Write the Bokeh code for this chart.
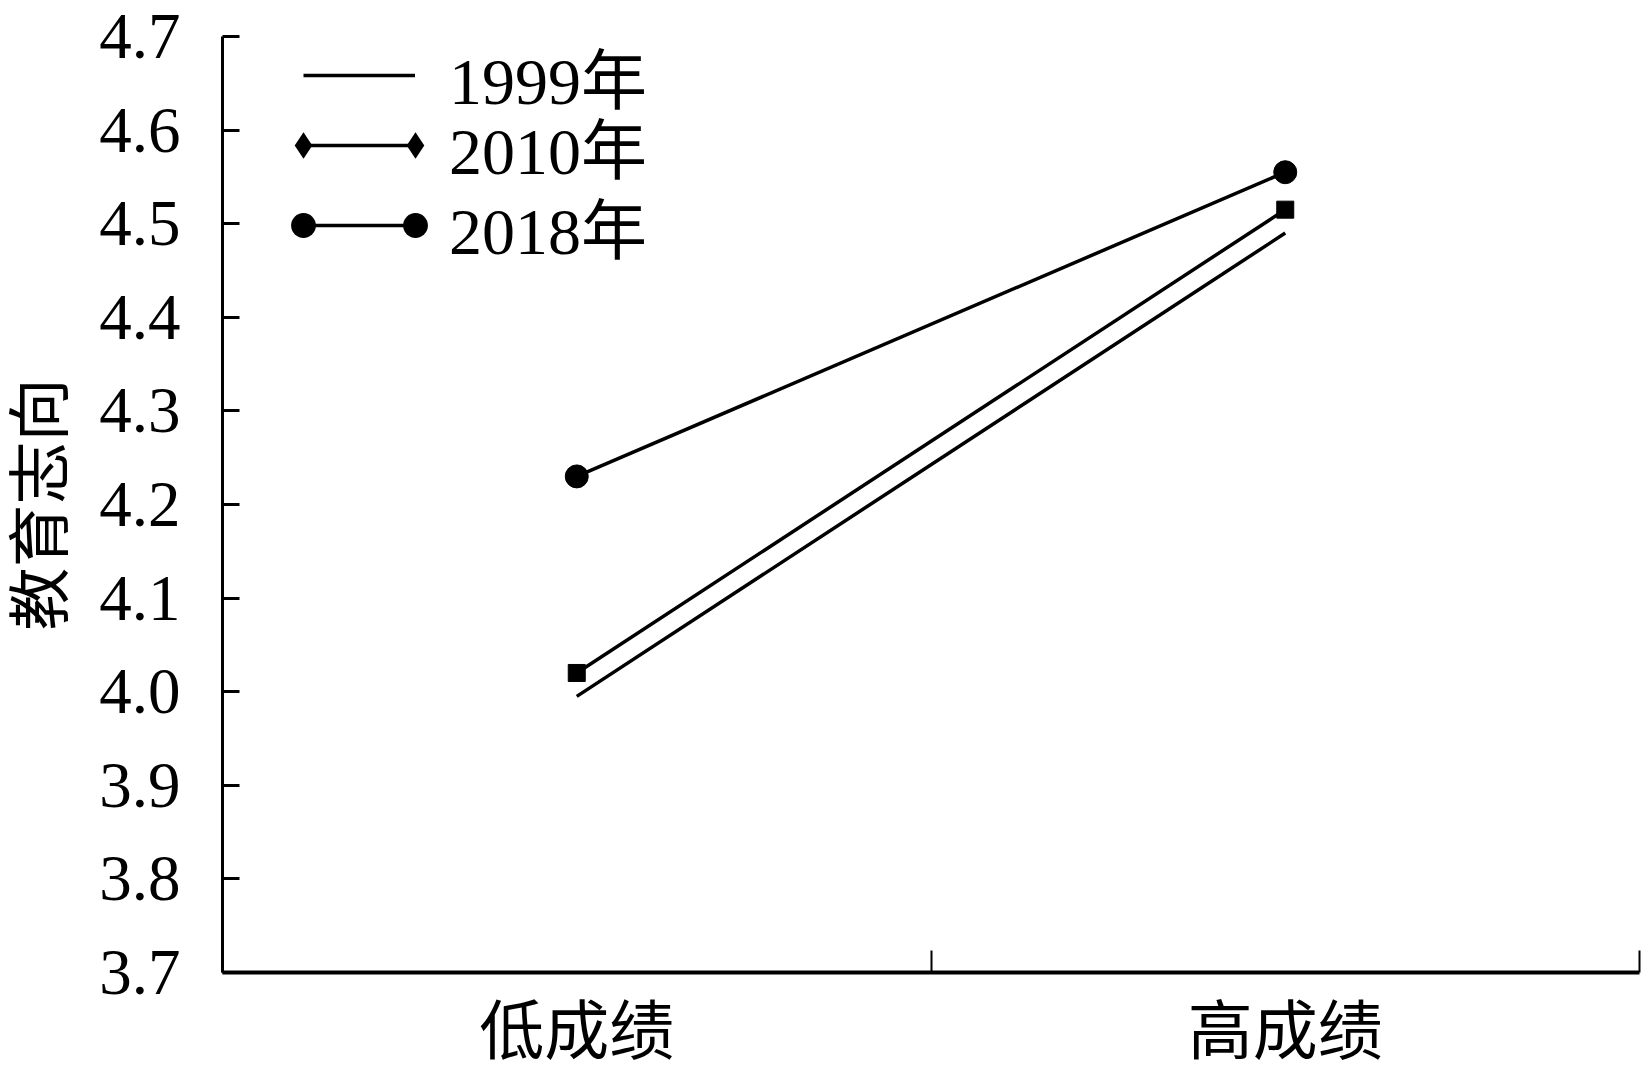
from bokeh.plotting import figure
from bokeh.models import FixedTicker, Legend, LegendItem, Range1d, ColumnDataSource
from bokeh.embed import file_html
from bokeh.resources import INLINE

categories = ["低成绩", "高成绩"]
years = ["1999年", "2010年", "2018年"]
v1999 = [3.995, 4.49]
v2010 = [4.02, 4.515]
v2018 = [4.23, 4.555]
y_ticks = [3.7, 3.8, 3.9, 4.0, 4.1, 4.2, 4.3, 4.4, 4.5, 4.6, 4.7]
y_tick_labels = ["3.7", "3.8", "3.9", "4.0", "4.1", "4.2", "4.3", "4.4", "4.5", "4.6", "4.7"]
y_title = "教育志向"

n = len(categories)
xpos = [i + 0.5 for i in range(n)]

SERIF = "Liberation Serif"
MIXED = "Liberation Serif, Noto Sans CJK SC"

W, H = 1641, 1071
BL, BT, BR, BB = 222, 36, 2, 99

p = figure(width=W, height=H, output_backend="svg", toolbar_location=None,
           x_range=Range1d(0, n), y_range=Range1d(y_ticks[0], y_ticks[-1]),
           min_border_left=BL, min_border_right=BR, min_border_top=BT, min_border_bottom=BB)
p.grid.visible = False
p.outline_line_color = None
p.background_fill_color = "white"

# x axis
xa = p.xaxis[0]
xa.ticker = FixedTicker(ticks=xpos, minor_ticks=list(range(n + 1)))
xa.major_label_overrides = {x: c for x, c in zip(xpos, categories)}
xa.major_tick_line_color = None
xa.minor_tick_in = 22
xa.minor_tick_out = 0
xa.minor_tick_line_width = 2
xa.minor_tick_line_color = "black"
xa.axis_line_width = 4
xa.axis_line_color = "black"
xa.major_label_text_font = MIXED
xa.major_label_text_font_size = "65px"
xa.major_label_text_color = "black"
xa.major_label_standoff = 17

# y axis
ya = p.yaxis[0]
ya.ticker = FixedTicker(ticks=y_ticks)
ya.major_label_overrides = {t: l for t, l in zip(y_ticks, y_tick_labels)}
ya.major_tick_in = 17
ya.major_tick_out = 0
ya.major_tick_line_width = 3
ya.minor_tick_line_color = None
ya.axis_line_width = 3
ya.axis_line_color = "black"
ya.major_label_text_font = SERIF
ya.major_label_text_font_size = "65px"
ya.major_label_text_color = "black"
ya.major_label_standoff = 42
ya.axis_label = y_title
ya.axis_label_text_font = MIXED
ya.axis_label_text_font_size = "63px"
ya.axis_label_text_font_style = "normal"
ya.axis_label_text_color = "black"
ya.axis_label_standoff = 20

# data
src1 = ColumnDataSource(dict(x=xpos, y=v1999))
src2 = ColumnDataSource(dict(x=xpos, y=v2010))
src3 = ColumnDataSource(dict(x=xpos, y=v2018))
LW = 3.5
r1 = p.line("x", "y", source=src1, line_width=LW, color="black")
r2 = p.line("x", "y", source=src2, line_width=LW, color="black")
r2m = p.scatter("x", "y", source=src2, marker="square", size=17, color="black")
r3 = p.line("x", "y", source=src3, line_width=LW, color="black")
r3m = p.scatter("x", "y", source=src3, marker="circle", size=23, color="black")

# legend-only marker renderers: zero size in the plot, legend sizes them to their box
dia_m = p.scatter("x", "y", source=src2, marker="diamond", size=0, line_alpha=0, color="black")
cir_m = p.scatter("x", "y", source=src3, marker="circle", size=0, line_alpha=0, color="black")

frame_bottom = H - BB          # screen px from top
ROW = 100
row_centers = [75, 145, 225]   # screen px from top of page
line_x0, line_x1 = 303, 415    # screen px of the legend line ends

def add_legend(item, x, y_center, gw, standoff=36, label_w=20):
    vy = frame_bottom - y_center - ROW / 2
    lg = Legend(items=[item], location=(x - BL, vy), glyph_width=gw, glyph_height=ROW,
                label_height=ROW, label_width=label_w, spacing=0, padding=0, margin=0,
                border_line_color=None, background_fill_alpha=0,
                label_text_font=MIXED, label_text_font_size="66px",
                label_text_color="black", label_standoff=standoff)
    p.add_layout(lg, "center")
    return lg

for yr, rl, yc in zip(years, [r1, r2, r3], row_centers):
    add_legend(LegendItem(label=yr, renderers=[rl]), line_x0, yc, line_x1 - line_x0, standoff=34)

for rm, yc, mw in [(dia_m, row_centers[1], 66), (cir_m, row_centers[2], 62)]:
    for cx in (line_x0, line_x1):
        add_legend(LegendItem(label=" ", renderers=[rm]), cx - mw // 2, yc, mw, standoff=0, label_w=0)

open("out.html", "w").write(file_html(p, INLINE))
